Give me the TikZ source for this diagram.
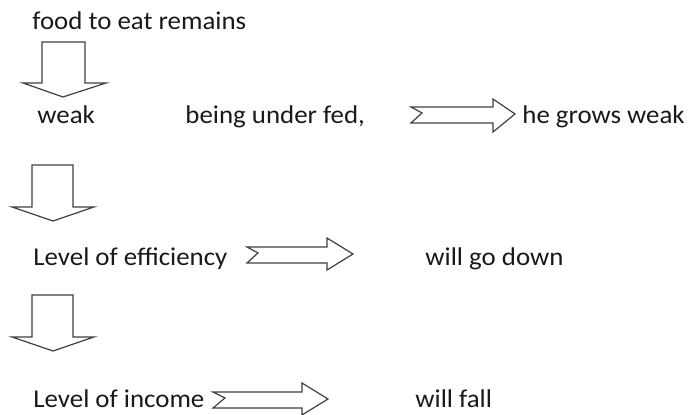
\documentclass[tikz,border=0pt]{standalone}
\usepackage{fontspec}
\setmainfont{Carlito}
\begin{document}
\begin{tikzpicture}[x=0.5pt,y=-0.5pt,
  lbl/.style={anchor=base west,inner sep=0pt,font=\fontsize{12.8pt}{15pt}\selectfont,text=black!90,xscale=1.05},
  blockarrow/.style={draw=black!75,line width=0.6pt,fill=white,line join=miter}]
\useasboundingbox (0,0) rectangle (693,415);
% texts
\node[lbl] (food) at (32,30) {food to eat remains};
\node[lbl] (weak) at (37,124) {weak};
\node[lbl] (fed) at (185,124) {being under fed,};
\node[lbl] (grows) at (522,124) {he grows weak};
\node[lbl] (eff) at (33,266) {Level of efficiency};
\node[lbl] (down) at (425,266) {will go down};
\node[lbl] (inc) at (33,408) {Level of income};
\node[lbl] (fall) at (415,408) {will fall};
% down arrows
\draw[blockarrow] (42,42) -- (85,42) -- (85,83) -- (106,83) -- (63,97) -- (23,83) -- (42,83) -- cycle;
\draw[blockarrow] (32,165) -- (73,165) -- (73,207) -- (94,207) -- (53,221) -- (12,207) -- (32,207) -- cycle;
\draw[blockarrow] (32,295) -- (73,295) -- (73,337) -- (94,337) -- (53,351) -- (12,337) -- (32,337) -- cycle;
% right arrows
\draw[blockarrow] (411,107) -- (493,107) -- (493,99) -- (515,114) -- (493,132) -- (493,123) -- (411,123) -- (422,113) -- cycle;
\draw[blockarrow] (247,247) -- (327,247) -- (327,238) -- (353,254) -- (327,270) -- (327,263) -- (247,263) -- (258,253) -- cycle;
\draw[blockarrow] (213,392) -- (302,392) -- (302,383) -- (328,399) -- (302,415) -- (302,408) -- (213,408) -- (225,398) -- cycle;
\end{tikzpicture}
\end{document}
